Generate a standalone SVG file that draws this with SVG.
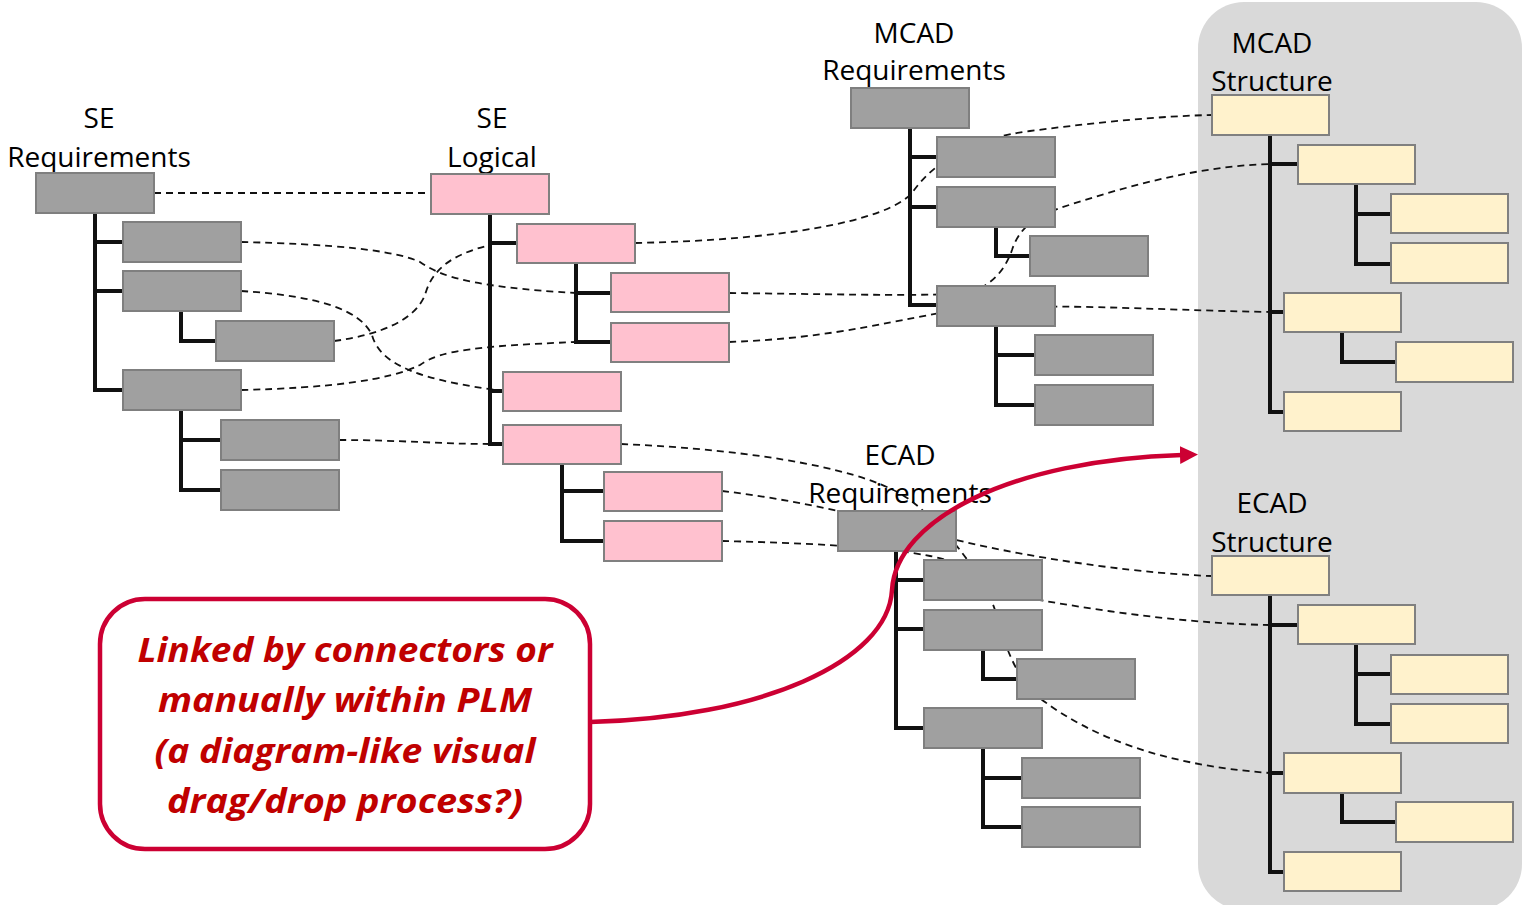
<svg xmlns="http://www.w3.org/2000/svg" width="1524" height="905" viewBox="0 0 1524 905">
<defs>
<style>
.g{fill:#a0a0a0;stroke:#7f7f7f;stroke-width:2}
.p{fill:#ffc1cf;stroke:#808080;stroke-width:2}
.c{fill:#fff2cc;stroke:#808080;stroke-width:2}
.t{fill:none;stroke:#111;stroke-width:4;stroke-linejoin:miter}
.d{fill:none;stroke:#111;stroke-width:1.8;stroke-dasharray:7 5}
.lbl{font-family:"Open Sans","Liberation Sans",sans-serif;font-size:28px;fill:#000;text-anchor:middle}
.call{font-family:"Open Sans","Liberation Sans",sans-serif;font-size:34px;font-weight:bold;font-style:italic;fill:#c00000;text-anchor:middle}
</style>
<marker id="ah" markerUnits="userSpaceOnUse" markerWidth="20" markerHeight="20" refX="2" refY="9" orient="auto">
<path d="M0,0 L18,9 L0,18 z" fill="#cc0033"/>
</marker>
</defs>
<rect width="1524" height="905" fill="#fff"/>
<g id="panel-bg"><rect x="1198" y="2" width="324" height="908" rx="46" fill="#d9d9d9"/></g>

<g id="connectors">
<g id="links">
<path class="d" d="M154,193 H431"/>
<path class="d" d="M241,242 C330,244 395,250 420,262 C440,276 470,287 576,293"/>
<path class="d" d="M241,291 C320,296 360,310 372,335 C380,365 420,380 503,391"/>
<path class="d" d="M334,341 C380,335 415,320 425,295 C432,270 450,255 490,245"/>
<path class="d" d="M241,390 C330,388 390,380 420,365 C440,350 480,346 576,342"/>
<path class="d" d="M635,243 C780,240 885,222 912,193 C935,160 975,138 1030,131 C1100,122 1160,116 1212,115"/>
<path class="d" d="M729,293 C820,294 900,296 960,294 C990,290 1005,270 1012,250 C1020,225 1040,215 1060,208 C1130,185 1200,166 1270,164"/>
<path class="d" d="M729,342 C840,338 900,318 960,310 C1040,302 1150,310 1270,312"/>
<path class="d" d="M339,440 C400,440 440,444 490,444"/>
<path class="d" d="M621,444 C760,450 870,470 910,500 C950,530 985,580 995,610 C1005,645 1015,680 1045,702 C1090,735 1160,765 1270,773"/>
<path class="d" d="M722,491 C800,500 880,520 956,540 C1050,562 1150,574 1212,576"/>
<path class="d" d="M722,541 C800,543 880,546 930,556 C980,566 1010,595 1045,601 C1120,614 1200,624 1270,625"/>
</g>
<g id="hierarchy">
<path class="t" d="M95,213 V390 H123 M95,242 H123 M95,291 H123 M181,311 V341 H216 M181,410 V490 H221 M181,440 H221"/>
<path class="t" d="M490,214 V444 H503 M490,243 H517 M490,391 H503 M576,263 V342 H611 M576,293 H611 M562,464 V541 H604 M562,491 H604"/>
<path class="t" d="M910,128 V305 H937 M910,157 H937 M910,207 H937 M996,227 V256 H1030 M996,326 V405 H1035 M996,355 H1035"/>
<path class="t" d="M896,551 V728 H924 M896,580 H924 M896,629 H924 M983,650 V679 H1017 M983,748 V827 H1022 M983,778 H1022"/>
<path class="t" d="M1270,135 V412 H1284 M1270,164 H1298 M1270,312 H1284 M1356,184 V264 H1391 M1356,214 H1391 M1342,332 V362 H1396"/>
<path class="t" d="M1270,595 V872 H1284 M1270,625 H1298 M1270,773 H1284 M1356,644 V724 H1391 M1356,674 H1391 M1342,793 V822 H1396"/>
</g>
</g>

<g id="se-requirements">
<text class="lbl" x="99" y="128">SE</text>
<text class="lbl" x="99" y="167">Requirements</text>
<g id="ser0"><rect class="g" x="36" y="173" width="118" height="40"/></g>
<g id="ser1"><rect class="g" x="123" y="222" width="118" height="40"/></g>
<g id="ser2"><rect class="g" x="123" y="271" width="118" height="40"/></g>
<g id="ser2a"><rect class="g" x="216" y="321" width="118" height="40"/></g>
<g id="ser3"><rect class="g" x="123" y="370" width="118" height="40"/></g>
<g id="ser3a"><rect class="g" x="221" y="420" width="118" height="40"/></g>
<g id="ser3b"><rect class="g" x="221" y="470" width="118" height="40"/></g>
</g>

<g id="se-logical">
<text class="lbl" x="492" y="128">SE</text>
<text class="lbl" x="492" y="167">Logical</text>
<g id="sel0"><rect class="p" x="431" y="174" width="118" height="40"/></g>
<g id="sel1"><rect class="p" x="517" y="224" width="118" height="39"/></g>
<g id="sel1a"><rect class="p" x="611" y="273" width="118" height="39"/></g>
<g id="sel1b"><rect class="p" x="611" y="323" width="118" height="39"/></g>
<g id="sel2"><rect class="p" x="503" y="372" width="118" height="39"/></g>
<g id="sel3"><rect class="p" x="503" y="425" width="118" height="39"/></g>
<g id="sel3a"><rect class="p" x="604" y="472" width="118" height="39"/></g>
<g id="sel3b"><rect class="p" x="604" y="521" width="118" height="40"/></g>
</g>

<g id="mcad-requirements">
<text class="lbl" x="914" y="43">MCAD</text>
<text class="lbl" x="914" y="80">Requirements</text>
<g id="mr0"><rect class="g" x="851" y="88" width="118" height="40"/></g>
<g id="mr1"><rect class="g" x="937" y="137" width="118" height="40"/></g>
<g id="mr2"><rect class="g" x="937" y="187" width="118" height="40"/></g>
<g id="mr2a"><rect class="g" x="1030" y="236" width="118" height="40"/></g>
<g id="mr3"><rect class="g" x="937" y="286" width="118" height="40"/></g>
<g id="mr3a"><rect class="g" x="1035" y="335" width="118" height="40"/></g>
<g id="mr3b"><rect class="g" x="1035" y="385" width="118" height="40"/></g>
</g>

<g id="ecad-requirements">
<text class="lbl" x="900" y="465">ECAD</text>
<text class="lbl" x="900" y="503">Requirements</text>
<g id="er0"><rect class="g" x="838" y="511" width="118" height="40"/></g>
<g id="er1"><rect class="g" x="924" y="560" width="118" height="40"/></g>
<g id="er2"><rect class="g" x="924" y="610" width="118" height="40"/></g>
<g id="er2a"><rect class="g" x="1017" y="659" width="118" height="40"/></g>
<g id="er3"><rect class="g" x="924" y="708" width="118" height="40"/></g>
<g id="er3a"><rect class="g" x="1022" y="758" width="118" height="40"/></g>
<g id="er3b"><rect class="g" x="1022" y="807" width="118" height="40"/></g>
</g>

<g id="mcad-structure">
<text class="lbl" x="1272" y="53">MCAD</text>
<text class="lbl" x="1272" y="91">Structure</text>
<g id="ms0"><rect class="c" x="1212" y="95" width="117" height="40"/></g>
<g id="ms1"><rect class="c" x="1298" y="145" width="117" height="39"/></g>
<g id="ms1a"><rect class="c" x="1391" y="194" width="117" height="39"/></g>
<g id="ms1b"><rect class="c" x="1391" y="243" width="117" height="40"/></g>
<g id="ms2"><rect class="c" x="1284" y="293" width="117" height="39"/></g>
<g id="ms2a"><rect class="c" x="1396" y="342" width="117" height="40"/></g>
<g id="ms3"><rect class="c" x="1284" y="392" width="117" height="39"/></g>
</g>

<g id="ecad-structure">
<text class="lbl" x="1272" y="513">ECAD</text>
<text class="lbl" x="1272" y="552">Structure</text>
<g id="es0"><rect class="c" x="1212" y="556" width="117" height="39"/></g>
<g id="es1"><rect class="c" x="1298" y="605" width="117" height="39"/></g>
<g id="es1a"><rect class="c" x="1391" y="655" width="117" height="39"/></g>
<g id="es1b"><rect class="c" x="1391" y="704" width="117" height="39"/></g>
<g id="es2"><rect class="c" x="1284" y="753" width="117" height="40"/></g>
<g id="es2a"><rect class="c" x="1396" y="802" width="117" height="40"/></g>
<g id="es3"><rect class="c" x="1284" y="852" width="117" height="39"/></g>
</g>

<g id="callout-arrow">
<path d="M590,722 C760,718 888,662 892,590 C896,520 1010,460 1182,455" fill="none" stroke="#cc0033" stroke-width="4.5" marker-end="url(#ah)"/>
</g>

<g id="callout">
<rect x="100" y="599" width="490" height="250" rx="45" fill="#fff" stroke="#cc0033" stroke-width="4.5"/>
<text class="call" x="345" y="662" textLength="415" lengthAdjust="spacingAndGlyphs">Linked by connectors or</text>
<text class="call" x="345" y="712" textLength="374" lengthAdjust="spacingAndGlyphs">manually within PLM</text>
<text class="call" x="345" y="763" textLength="381" lengthAdjust="spacingAndGlyphs">(a diagram-like visual</text>
<text class="call" x="345" y="813" textLength="356" lengthAdjust="spacingAndGlyphs">drag/drop process?)</text>
</g>
</svg>
